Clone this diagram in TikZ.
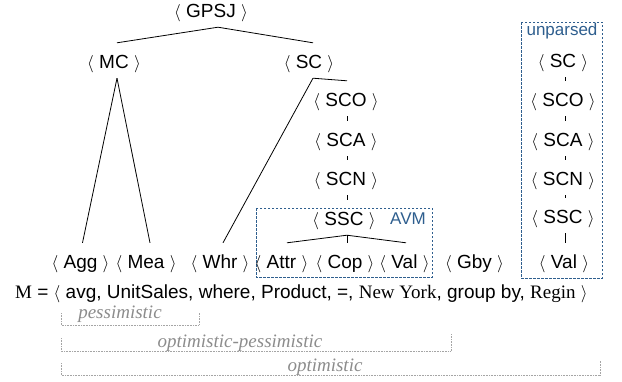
\documentclass[tikz,border=0pt]{standalone}
\usepackage{fontspec}
\setmainfont{Liberation Serif}
\setsansfont{Liberation Sans}
\definecolor{avmblue}{RGB}{46,94,142}
\definecolor{lblgray}{RGB}{140,140,140}
\definecolor{dotgray}{RGB}{165,165,165}
\begin{document}
\begin{tikzpicture}[x=1pt,y=-1pt,
  tn/.style={font=\sffamily\fontsize{19}{22}\selectfont, text height=20pt, text depth=5pt, inner xsep=1pt, inner ysep=5pt, anchor=base},
  edge/.style={draw=black, line width=0.8pt},
  avmbox/.style={draw=avmblue, line width=0.9pt, dash pattern=on 2.5pt off 1.5pt},
  bluelbl/.style={font=\sffamily\fontsize{17}{20}\selectfont, text=avmblue, anchor=base, inner sep=0pt},
  bracket/.style={draw=dotgray, line width=0.8pt, dash pattern=on 0.7pt off 0.9pt},
  scopelbl/.style={font=\rmfamily\itshape\fontsize{19}{22}\selectfont, text=lblgray, anchor=base, inner sep=0pt}]
\useasboundingbox (0,0) rectangle (622,381);
% group frames
\draw[avmbox] (256,208) rectangle (432,277);
\draw[avmbox] (521,22) rectangle (602,278);
\node[bluelbl] (avm) at (408,224) {AVM};
\node[bluelbl] (unp) at (562,35) {unparsed};
% tree nodes
\node[tn] (g) at (211,17) {$\langle$ GPSJ $\rangle$};
\node[tn] (mc) at (114,68) {$\langle$ MC $\rangle$};
\node[tn] (sc) at (309,68) {$\langle$ SC $\rangle$};
\node[tn] (sco) at (346,106) {$\langle$ SCO $\rangle$};
\node[tn] (sca) at (346,146) {$\langle$ SCA $\rangle$};
\node[tn] (scn) at (346,185) {$\langle$ SCN $\rangle$};
\node[tn] (ssc) at (344,225) {$\langle$ SSC $\rangle$};
\node[tn] (agg) at (80.5,268) {$\langle$ Agg $\rangle$};
\node[tn] (mea) at (146,268) {$\langle$ Mea $\rangle$};
\node[tn] (whr) at (220,268) {$\langle$ Whr $\rangle$};
\node[tn] (attr) at (281.5,268) {$\langle$ Attr $\rangle$};
\node[tn] (cop) at (345,268) {$\langle$ Cop $\rangle$};
\node[tn] (val) at (404.5,268) {$\langle$ Val $\rangle$};
\node[tn] (gby) at (474.5,268) {$\langle$ Gby $\rangle$};
% unparsed column
\node[tn] (rsc) at (563,67) {$\langle$ SC $\rangle$};
\node[tn] (rsco) at (563,106) {$\langle$ SCO $\rangle$};
\node[tn] (rsca) at (563,146) {$\langle$ SCA $\rangle$};
\node[tn] (rscn) at (563,185) {$\langle$ SCN $\rangle$};
\node[tn] (rssc) at (563,223) {$\langle$ SSC $\rangle$};
\node[tn] (rval) at (564,268) {$\langle$ Val $\rangle$};
% connectors
\draw[edge] ([xshift=7pt]g.south) -- ([xshift=3pt]mc.north);
\draw[edge] ([xshift=7pt]g.south) -- ([xshift=4pt]sc.north);
\draw[edge] ([xshift=3pt]mc.south) -- ([xshift=2pt]agg.north);
\draw[edge] ([xshift=3pt]mc.south) -- ([xshift=4pt]mea.north);
\draw[edge] ([xshift=4pt]sc.south) -- ([xshift=3pt]whr.north);
\draw[edge] ([xshift=4pt]sc.south) -- ([xshift=1pt]sco.north);
\draw[edge] ([xshift=1pt]sco.south) -- ([xshift=1pt]sca.north);
\draw[edge] ([xshift=1pt]sca.south) -- ([xshift=1pt]scn.north);
\draw[edge] ([xshift=1pt]scn.south) -- ([xshift=3pt]ssc.north);
\draw[edge] ([xshift=3pt]ssc.south) -- ([xshift=5.5pt]attr.north);
\draw[edge] ([xshift=3pt]ssc.south) -- ([xshift=2pt]cop.north);
\draw[edge] ([xshift=3pt]ssc.south) -- ([xshift=1.5pt]val.north);
\draw[edge] ([xshift=2pt]rsc.south) -- ([xshift=2pt]rsco.north);
\draw[edge] ([xshift=2pt]rsco.south) -- ([xshift=2pt]rsca.north);
\draw[edge] ([xshift=2pt]rsca.south) -- ([xshift=2pt]rscn.north);
\draw[edge] ([xshift=2pt]rscn.south) -- ([xshift=2pt]rssc.north);
\draw[edge] ([xshift=2pt]rssc.south) -- ([xshift=1pt]rval.north);
% mapping line
\node[anchor=base west, inner sep=0pt, font=\sffamily\fontsize{19}{22}\selectfont] (m) at (15,298)
  {{\rmfamily M} = $\langle$ avg, UnitSales, where, Product, =, {\rmfamily New York}, group by, {\rmfamily Regin} $\rangle$};
% scope brackets
\draw[bracket] (61,313) -- (61,325) -- (199,325) -- (199,313);
\node[scopelbl] (pess) at (120,318) {pessimistic};
\draw[bracket] (61,338) -- (61,351) -- (451,351) -- (451,334);
\node[scopelbl] (optpess) at (240,347) {optimistic-pessimistic};
\draw[bracket] (61,363) -- (61,375) -- (600,375) -- (600,360);
\node[scopelbl] (opt) at (325,371) {optimistic};
\end{tikzpicture}
\end{document}
